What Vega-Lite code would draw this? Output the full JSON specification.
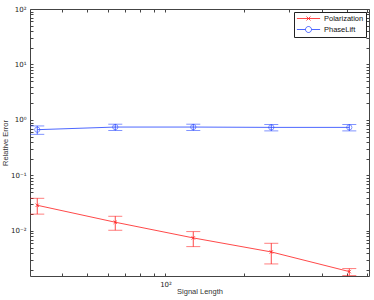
{
  "$schema": "https://vega.github.io/schema/vega-lite/v6.json",
  "width": 339,
  "height": 267,
  "autosize": {"type": "none"},
  "padding": {"left": 30, "top": 9, "right": 5, "bottom": 24},
  "background": "white",
  "config": {
    "view": {"stroke": "#444", "strokeWidth": 1},
    "font": "Liberation Sans",
    "axis": {
      "domain": false, "grid": false, "tickSize": -3, "tickColor": "#444", "tickWidth": 1,
      "labelFont": "DejaVu Sans", "labelFontSize": 7, "labelColor": "#222",
      "titleFont": "Liberation Sans", "titleFontSize": 7.5, "titleFontWeight": "normal", "titleColor": "#333"
    }
  },
  "data": {
    "values": [
      {"n": 32, "s": "Polarization", "e": 0.029, "lo": 0.0201, "hi": 0.0388},
      {"n": 64, "s": "Polarization", "e": 0.01435, "lo": 0.0103, "hi": 0.0184},
      {"n": 128, "s": "Polarization", "e": 0.00748, "lo": 0.0052, "hi": 0.0097},
      {"n": 256, "s": "Polarization", "e": 0.00418, "lo": 0.00254, "hi": 0.006},
      {"n": 512, "s": "Polarization", "e": 0.00185, "lo": 0.00158, "hi": 0.00209},
      {"n": 32, "s": "PhaseLift", "e": 0.668, "lo": 0.552, "hi": 0.78},
      {"n": 64, "s": "PhaseLift", "e": 0.745, "lo": 0.645, "hi": 0.84},
      {"n": 128, "s": "PhaseLift", "e": 0.745, "lo": 0.645, "hi": 0.84},
      {"n": 256, "s": "PhaseLift", "e": 0.735, "lo": 0.635, "hi": 0.83},
      {"n": 512, "s": "PhaseLift", "e": 0.735, "lo": 0.635, "hi": 0.83}
    ]
  },
  "resolve": {"axis": {"x": "independent", "y": "independent"}, "legend": {"color": "independent", "shape": "independent"}},
  "layer": [
    {
      "mark": {"type": "line", "strokeWidth": 0.8, "clip": true},
      "encoding": {
        "x": {"field": "n", "type": "quantitative",
          "scale": {"type": "log", "domain": [30, 610], "nice": false},
          "title": "Signal Length",
          "axis": {"orient": "bottom", "values": [40,50,60,70,80,90,100,200,300,400,500,600],
            "labelExpr": "datum.value == 100 ? '10²' : ''", "labelPadding": 7, "titlePadding": 0, "labelFlush": false}},
        "y": {"field": "e", "type": "quantitative",
          "scale": {"type": "log", "domain": [0.00154, 100], "nice": false},
          "title": "Relative Error",
          "axis": {"orient": "left",
            "values": [0.002,0.003,0.004,0.005,0.006,0.007,0.008,0.009,0.01,0.02,0.03,0.04,0.05,0.06,0.07,0.08,0.09,0.1,0.2,0.3,0.4,0.5,0.6,0.7,0.8,0.9,1,2,3,4,5,6,7,8,9,10,20,30,40,50,60,70,80,90,100],
            "labelExpr": "datum.value == 100 ? '10²' : datum.value == 10 ? '10¹' : datum.value == 1 ? '10⁰' : datum.value == 0.1 ? '10⁻¹' : datum.value == 0.01 ? '10⁻²' : ''",
            "labelPadding": 7, "titlePadding": 1, "labelFlush": false}},
        "color": {"field": "s", "type": "nominal",
          "scale": {"domain": ["Polarization", "PhaseLift"], "range": ["#ff1a1a", "#2040ff"]},
          "legend": null}
      }
    },
    {
      "mark": {"type": "rule", "strokeWidth": 0.8, "clip": true},
      "encoding": {
        "x": {"field": "n", "type": "quantitative", "axis": {"orient": "top", "values": [40,50,60,70,80,90,100,200,300,400,500,600], "labels": false, "title": null}},
        "y": {"field": "lo", "type": "quantitative", "axis": {"orient": "right", "values": [0.002,0.003,0.004,0.005,0.006,0.007,0.008,0.009,0.01,0.02,0.03,0.04,0.05,0.06,0.07,0.08,0.09,0.1,0.2,0.3,0.4,0.5,0.6,0.7,0.8,0.9,1,2,3,4,5,6,7,8,9,10,20,30,40,50,60,70,80,90,100], "labels": false, "title": null}},
        "y2": {"field": "hi"},
        "color": {"field": "s", "type": "nominal", "legend": null}
      }
    },
    {
      "mark": {"type": "tick", "orient": "horizontal", "size": 14, "thickness": 0.8, "clip": true},
      "encoding": {
        "x": {"field": "n", "type": "quantitative", "axis": null},
        "y": {"field": "lo", "type": "quantitative", "axis": null},
        "color": {"field": "s", "type": "nominal", "legend": null}
      }
    },
    {
      "mark": {"type": "tick", "orient": "horizontal", "size": 14, "thickness": 0.8, "clip": true},
      "encoding": {
        "x": {"field": "n", "type": "quantitative", "axis": null},
        "y": {"field": "hi", "type": "quantitative", "axis": null},
        "color": {"field": "s", "type": "nominal", "legend": null}
      }
    },
    {
      "transform": [{"filter": "datum.s == 'Polarization'"}],
      "mark": {"type": "point", "shape": "M-1,-1L1,1M-1,1L1,-1", "size": 12, "filled": false, "strokeWidth": 1, "clip": true},
      "encoding": {
        "x": {"field": "n", "type": "quantitative", "axis": null},
        "y": {"field": "e", "type": "quantitative", "axis": null},
        "color": {"field": "s", "type": "nominal", "legend": null}
      }
    },
    {
      "transform": [{"filter": "datum.s == 'PhaseLift'"}],
      "mark": {"type": "point", "shape": "circle", "size": 28, "filled": false, "strokeWidth": 0.8, "clip": true},
      "encoding": {
        "x": {"field": "n", "type": "quantitative", "axis": null},
        "y": {"field": "e", "type": "quantitative", "axis": null},
        "color": {"field": "s", "type": "nominal", "legend": null}
      }
    },
    {
      "mark": {"type": "point", "filled": false, "opacity": 0, "strokeWidth": 1},
      "encoding": {
        "x": {"field": "n", "type": "quantitative", "axis": null},
        "y": {"field": "e", "type": "quantitative", "axis": null},
        "color": {"field": "s", "type": "nominal",
          "legend": {"title": null, "orient": "top-right", "offset": 3, "fillColor": "white", "strokeColor": "#222",
            "padding": 2, "rowPadding": 1, "labelFontSize": 7.5, "labelFont": "Liberation Sans", "labelColor": "#111",
            "symbolOpacity": 1, "symbolSize": 64, "symbolStrokeWidth": 0.8, "symbolOffset": 8, "labelOffset": 11}},
        "shape": {"field": "s", "type": "nominal",
          "scale": {"domain": ["Polarization", "PhaseLift"],
            "range": ["M-2.9,0L2.9,0M-0.5,-0.5L0.5,0.5M-0.5,0.5L0.5,-0.5",
                      "M-2.9,0L-0.75,0M0.75,0L2.9,0M-0.75,0A0.75,0.75 0 1,1 0.75,0A0.75,0.75 0 1,1 -0.75,0"]},
          "legend": {"title": null}}
      }
    }
  ]
}
